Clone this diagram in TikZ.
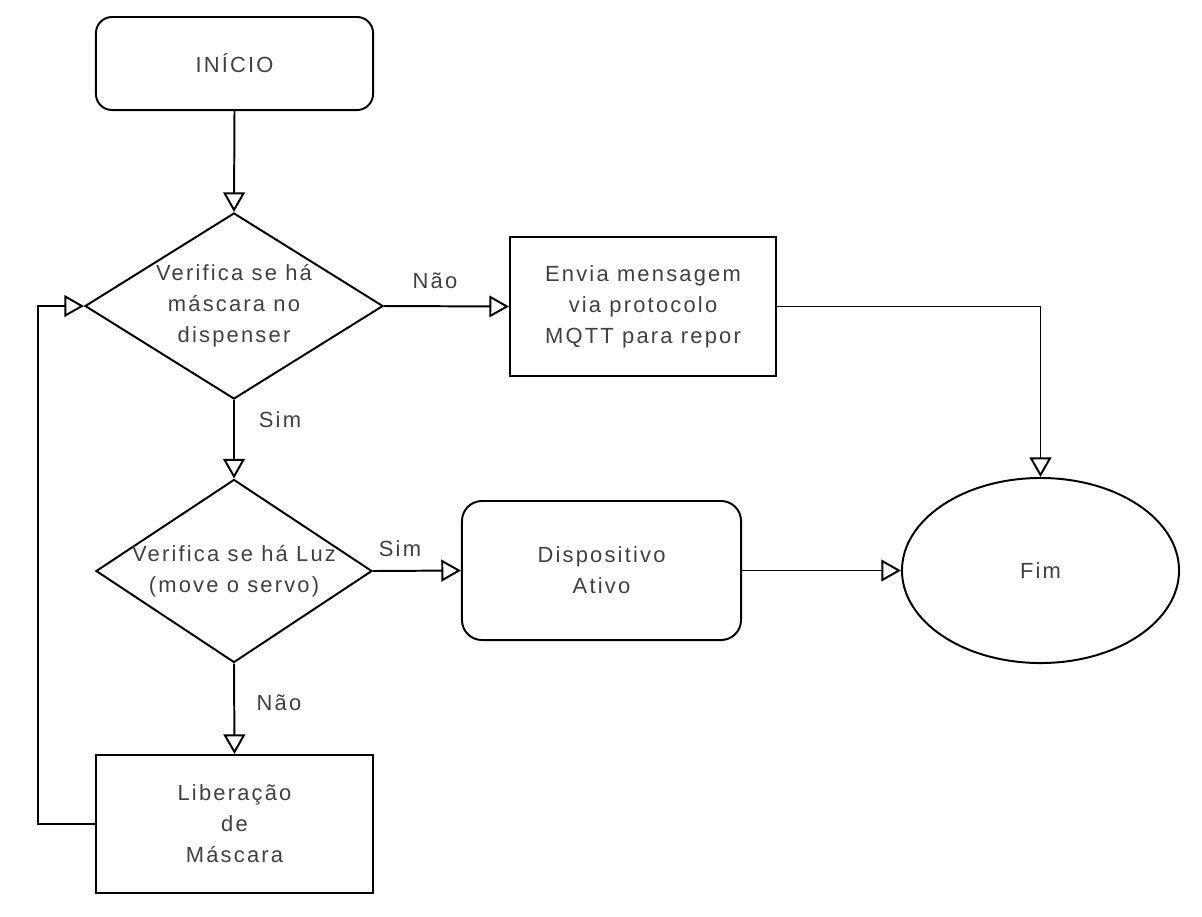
\documentclass[tikz,border=0pt]{standalone}
\usepackage{fontspec}
\setmainfont{Liberation Sans}[LetterSpace=10]
\usetikzlibrary{arrows.meta,shapes.geometric}

\newcommand{\flowfont}{\fontsize{15.6pt}{22pt}\selectfont}

\begin{document}
\begin{tikzpicture}[
  x=0.025cm, y=-0.025cm,
  box/.style={draw, line width=1.4pt, text=black!75, align=center,
    font=\flowfont, inner sep=0pt},
  process/.style={box, rectangle},
  terminal/.style={box, rectangle, rounded corners=0.4cm},
  decision/.style={box, diamond, inner xsep=-1cm},
  endpoint/.style={box, ellipse},
  flow/.style={line width=1.4pt,
    -{Triangle[open, length=14pt, width=15.5pt, line width=1.4pt]}},
  tag/.style={text=black!75, font=\flowfont}
]
\useasboundingbox (0,0) rectangle (1202,916);

% ------------------------------------------------------------
% Left column: start, checks and release
% ------------------------------------------------------------
\node[terminal, minimum width=6.925cm, minimum height=2.325cm]
  (start) at (234.5,63.5) {INÍCIO};

\node[decision, aspect=1.6, minimum width=7.45cm, minimum height=4.65cm]
  (check1) at (234,306) {Verifica se há\\máscara no\\dispenser};

\node[decision, aspect=1.5, minimum width=6.9cm, minimum height=4.575cm]
  (check2) at (234,571) {Verifica se há Luz\\(move o servo)};

\node[process, minimum width=6.925cm, minimum height=3.45cm]
  (release) at (234.5,824) {Liberação\\de\\Máscara};

% ------------------------------------------------------------
% Right side: message, device and end
% ------------------------------------------------------------
\node[process, minimum width=6.65cm, minimum height=3.475cm]
  (message) at (643,306.5) {Envia mensagem\\via protocolo\\MQTT para repor};

\node[terminal, rounded corners=0.5cm, minimum width=6.975cm,
  minimum height=3.475cm]
  (device) at (601.5,570.5) {Dispositivo\\Ativo};

\node[endpoint, minimum width=6.925cm, minimum height=4.625cm]
  (finish) at (1040.5,570.5) {Fim};

% ------------------------------------------------------------
% Connectors
% ------------------------------------------------------------
\draw[flow] (start.south) -- (check1.north);
\draw[flow] (check1.east) -- (message.west);
\draw[flow] (check1.south) -- (check2.north);
\draw[flow] (check2.east) -- (device.west);
\draw[flow] (check2.south) -- (release.north);
\draw[flow] (device.east) -- (finish.west);
\draw[flow] (message.east) -| (finish.north);
\draw[flow] (release.west) -- ++(-57,0) |- (check1.west);

\node[tag] (noMask) at (435,281) {Não};
\node[tag] (yesMask) at (280,420) {Sim};
\node[tag] (yesLight) at (400,549) {Sim};
\node[tag] (noLight) at (279,703) {Não};

\end{tikzpicture}
\end{document}
